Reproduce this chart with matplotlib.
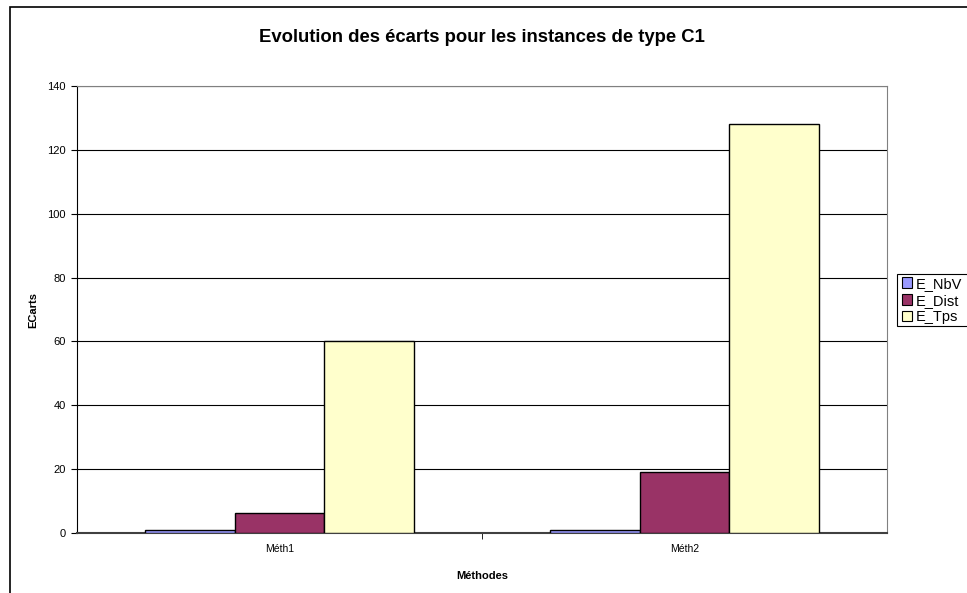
import matplotlib
matplotlib.use("Agg")
import matplotlib.pyplot as plt
from matplotlib.patches import Rectangle, Patch
import numpy as np

plt.rcParams['font.family'] = ['Liberation Sans', 'DejaVu Sans']

categories = ["Méth1", "Méth2"]
series_names = ["E_NbV", "E_Dist", "E_Tps"]
e_nbv = [1.0, 1.0]
e_dist = [6.2, 19.0]
e_tps = [60.0, 128.0]
yticks = [0, 20, 40, 60, 80, 100, 120, 140]
colors = ["#9999FF", "#993366", "#FFFFCC"]

W, H = 967, 593
fig = plt.figure(figsize=(W / 100, H / 100), dpi=100)

# outer chart frame
fig.patches.append(Rectangle((10 / W, -0.05), 1.2, 1 - 7 / H + 0.05,
                             transform=fig.transFigure, fill=False,
                             edgecolor="black", linewidth=1.2, zorder=0))

ax = fig.add_axes([77 / W, 60 / H, 810 / W, 447 / H])
x = np.arange(len(categories))
bw = 0.222
for i, (vals, c) in enumerate(zip([e_nbv, e_dist, e_tps], colors)):
    ax.bar(x + (i - 1) * bw, vals, width=bw, color=c, edgecolor="black",
           linewidth=1.0, zorder=3)

ax.set_xlim(-0.5, 1.5)
ax.set_ylim(0, 140)
ax.set_yticks(yticks)
ax.set_yticklabels([str(v) for v in yticks], fontsize=8)
ax.yaxis.grid(True, color="black", linewidth=0.8, zorder=0)
ax.set_axisbelow(True)

ax.set_xticks(x)
ax.set_xticklabels(categories, fontsize=7.5)
ax.tick_params(axis="x", length=0, pad=8)
ax.set_xticks([0.5], minor=True)
ax.tick_params(axis="x", which="minor", length=4, direction="out", color="black")
ax.tick_params(axis="y", length=4, direction="out", pad=4)

for s in ["top", "right"]:
    ax.spines[s].set_color("#808080")
ax.spines["left"].set_color("black")
ax.spines["bottom"].set_color("#404040")
ax.spines["bottom"].set_linewidth(1.5)

ax.set_xlabel("Méthodes", fontsize=8, fontweight="bold", labelpad=12)
ax.set_ylabel("ECarts", fontsize=8, fontweight="bold")
ax.yaxis.set_label_coords(-0.048, 0.5)

fig.text(0.5 * (77 + 887) / W, 1 - 38 / H,
         "Evolution des écarts pour les instances de type C1",
         ha="center", va="center", fontsize=13.3, fontweight="bold")

# legend box running off the right edge
fig.patches.append(Rectangle((897 / W, 1 - 326 / H), 0.2, 52 / H,
                             transform=fig.transFigure, facecolor="white",
                             edgecolor="black", linewidth=0.8, zorder=5))
handles = [Patch(facecolor=c, edgecolor="black", linewidth=0.8) for c in colors]
leg = fig.legend(handles, series_names, loc="upper left",
                 bbox_to_anchor=(898 / W, 1 - 273 / H), fontsize=10.5,
                 frameon=False,
                 handlelength=0.7, handleheight=0.7, handletextpad=0.3,
                 labelspacing=0.2, borderpad=0.25, borderaxespad=0)
leg.set_zorder(6)

fig.savefig("out.png", dpi=100)
